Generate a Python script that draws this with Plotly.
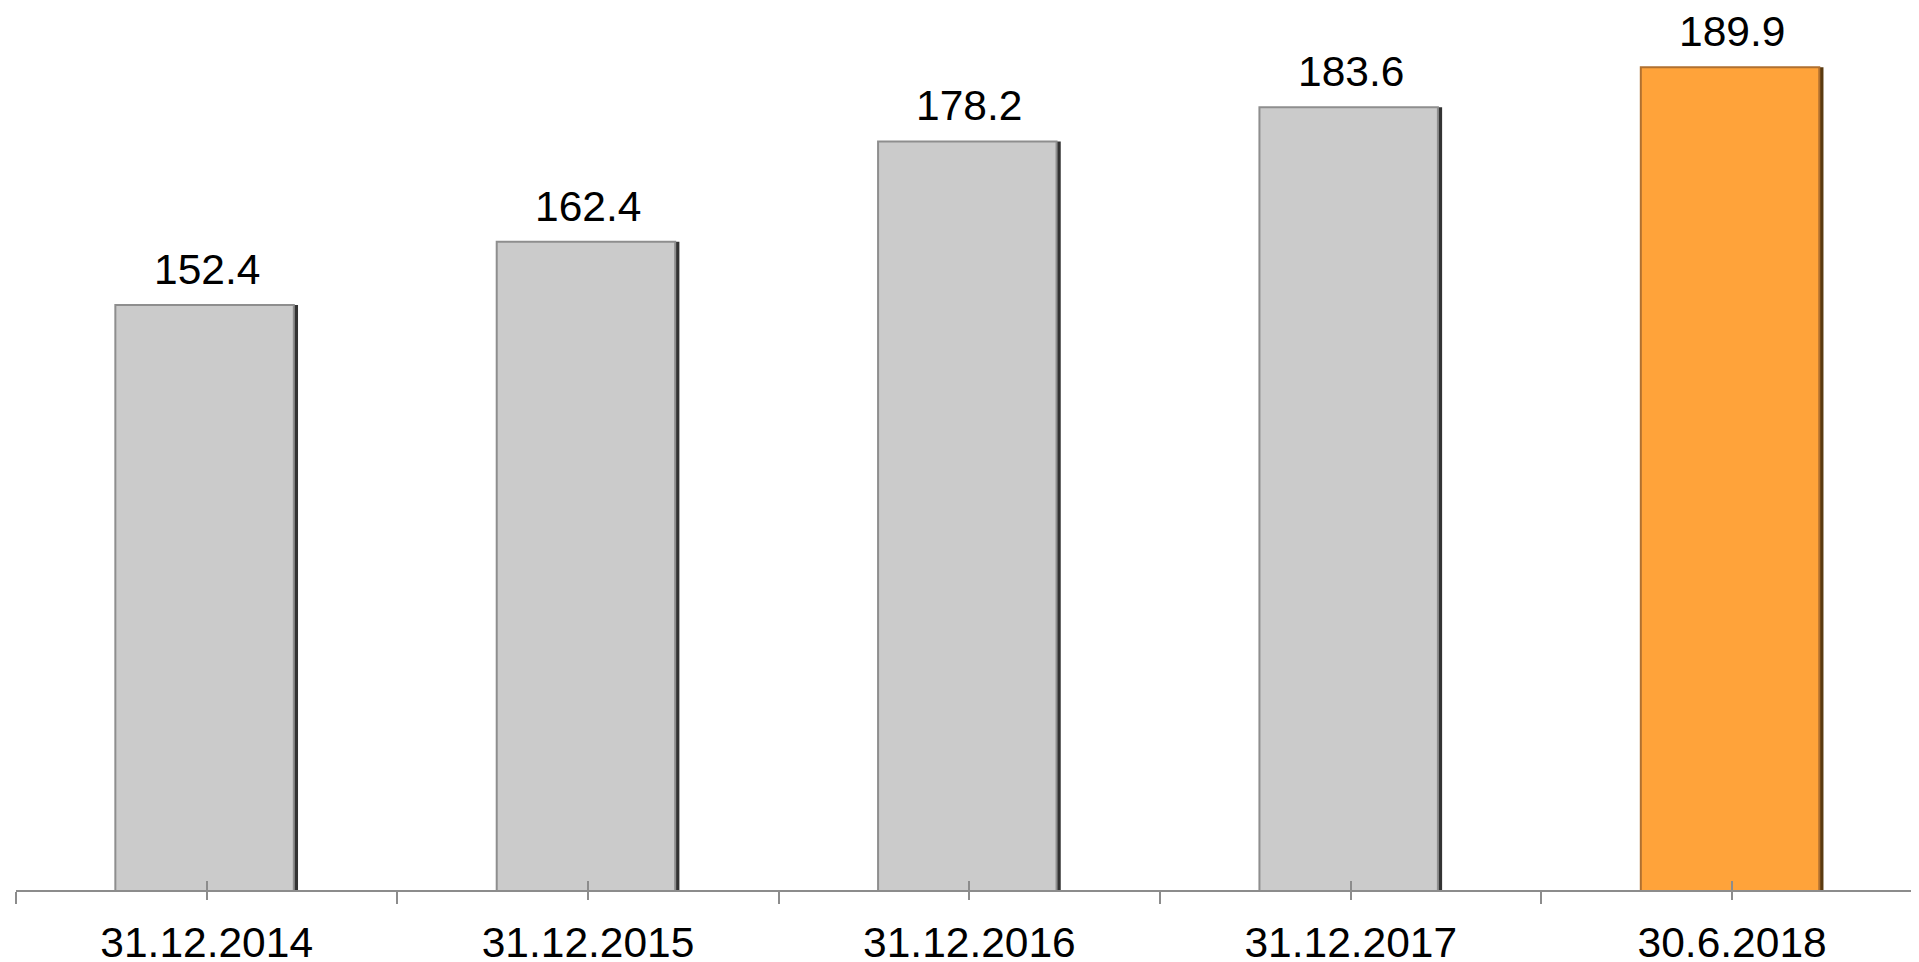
import plotly.graph_objects as go

categories = ["31.12.2014", "31.12.2015", "31.12.2016", "31.12.2017", "30.6.2018"]
values = [152.4, 162.4, 178.2, 183.6, 189.9]
labels = ["152.4", "162.4", "178.2", "183.6", "189.9"]
face_colors = ["#cbcbcb", "#cbcbcb", "#cbcbcb", "#cbcbcb", "#ffa33a"]
edge_colors = ["#333333", "#333333", "#333333", "#333333", "#5a3a10"]
line_colors = ["#8e8e8e", "#8e8e8e", "#8e8e8e", "#8e8e8e", "#b07030"]

FONT = "Arial, Liberation Sans, sans-serif"
BAR_W = 0.479
EDGE = 0.011

fig = go.Figure()
# dark right-hand bevel (behind)
fig.add_trace(go.Bar(
    x=categories, y=values, width=BAR_W,
    marker=dict(color=edge_colors, line=dict(width=0)),
    hoverinfo="skip", showlegend=False,
))
# bar face, on the overlay axis that also carries the centre ticks (drawn on top)
fig.add_trace(go.Bar(
    x=categories, y=values, xaxis="x2", width=BAR_W - EDGE, offset=-BAR_W / 2,
    marker=dict(color=face_colors, line=dict(color=line_colors, width=2)),
    hoverinfo="skip", showlegend=False,
))

for c, v, t in zip(categories, values, labels):
    fig.add_annotation(x=c, y=v, xref="x2", text=t, showarrow=False, yanchor="bottom",
                       yshift=10, font=dict(family=FONT, size=42.5, color="#000000"))

fig.update_layout(
    width=1911, height=954,
    margin=dict(l=7.5, r=0, t=0, b=72),
    paper_bgcolor="white", plot_bgcolor="white",
    barmode="overlay",
    showlegend=False,
    xaxis=dict(
        type="category", categoryorder="array", categoryarray=categories,
        range=[-0.5, 4.49], tickson="boundaries", automargin=False,
        ticks="outside", ticklen=12, tickwidth=2, tickcolor="#8c8c8c",
        showline=True, linecolor="#8c8c8c", linewidth=2,
        showgrid=False, zeroline=False,
        tickfont=dict(family=FONT, size=42.5, color="#000000"),
        ticklabelstandoff=14,
    ),
    xaxis2=dict(
        type="category", categoryorder="array", categoryarray=categories,
        range=[-0.5, 4.49], overlaying="x", anchor="free", position=0.0108,
        automargin=False,
        ticks="outside", ticklen=19, tickwidth=2, tickcolor="#8c8c8c",
        showticklabels=False, showline=False, showgrid=False, zeroline=False,
    ),
    yaxis=dict(range=[60.15, 199.25], visible=False, showgrid=False, zeroline=False,
               automargin=False),
)

fig.write_html("out.html")
